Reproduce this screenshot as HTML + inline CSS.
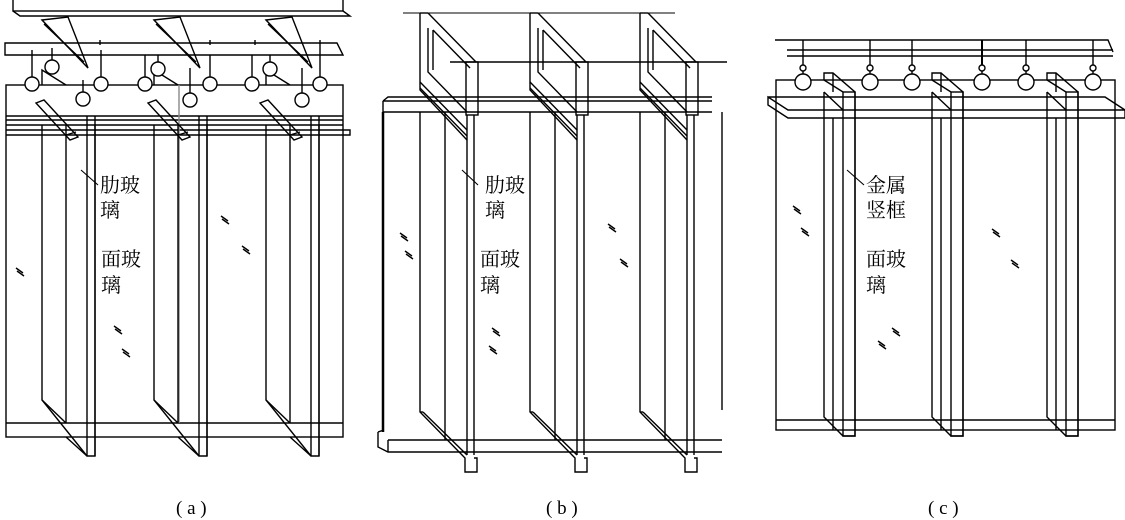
<!DOCTYPE html>
<html><head><meta charset="utf-8"><style>
html,body{margin:0;padding:0;background:#fff;}
svg{display:block;}
text{font-family:"Liberation Serif","Noto Serif CJK SC","Noto Sans CJK SC",serif;fill:#000;}
</style></head><body>
<svg width="1125" height="520" viewBox="0 0 1125 520" xmlns="http://www.w3.org/2000/svg" stroke="#000" stroke-width="1.4" fill="none">
<defs>
<g id="hash"><line x1="-4" y1="-4" x2="3" y2="1"/><line x1="-3" y1="-1" x2="4" y2="4"/></g>
<!-- panel a rib group -->
<g id="ribA">
<path d="M42 125 V400 L87 456 H95 V125"/>
<line x1="66" y1="125" x2="66" y2="423"/>
<line x1="87" y1="116" x2="87" y2="456"/>
<line x1="42" y1="400" x2="66" y2="423"/>
<line x1="66" y1="437" x2="87" y2="456"/>
<line x1="95" y1="116" x2="95" y2="456"/>
<path d="M42 85 V70 L66 85" />
<path d="M36 103 L70 140 L78 137 L44 100 Z"/>
<line x1="66" y1="135" x2="76" y2="132"/>
<path d="M42 20 L68 17 L88 68 Z"/>
<line x1="44" y1="24" x2="84" y2="62"/>
</g>
<g id="ribB">
<path d="M420 13 V90 L467 140"/>
<path d="M428 13 L476 62"/>
<path d="M420 13 L428 13"/>
<path d="M428 28 V72 L467 112"/>
<path d="M433 30 V70"/><path d="M433 30 L470 68"/>
<path d="M420 82 L467 130"/>
<path d="M420 88 L467 136"/>
<rect x="466" y="62" width="12" height="53"/>
<line x1="467" y1="115" x2="467" y2="455"/>
<line x1="474" y1="115" x2="474" y2="455"/>
<line x1="445" y1="112" x2="445" y2="440"/>
<path d="M420 112 V412 L465 458 V472 H477 V458 H474"/>
<line x1="423" y1="412" x2="467" y2="455"/>
<line x1="420" y1="412" x2="423" y2="412"/>
</g>
<g id="ribC">
<path d="M824 80 V73 H833 L855 92 V436 H843 L824 417 V92"/>
<line x1="833" y1="73" x2="833" y2="92"/>
<line x1="833" y1="118" x2="833" y2="430"/>
<rect x="843" y="92" width="12" height="344"/>
<line x1="824" y1="92" x2="843" y2="110"/>
<line x1="824" y1="80" x2="843" y2="92"/>
</g>
</defs>

<!-- ============ (a) ============ -->
<rect x="13" y="-2" width="330" height="13"/>
<path d="M13 11 L20 16 H350 L343 11"/>
<path d="M5 43 H337 L343 55 H5 Z"/>
<rect x="6" y="85" width="337" height="352"/>
<line x1="6" y1="116" x2="343" y2="116"/>
<line x1="6" y1="120" x2="343" y2="120"/>
<line x1="6" y1="125" x2="343" y2="125"/>
<path d="M6 130 H350 V135 H6"/>
<line x1="6" y1="423" x2="343" y2="423"/>
<line x1="179" y1="85" x2="179" y2="423" stroke="#888"/>
<use href="#ribA"/>
<use href="#ribA" transform="translate(112,0)"/>
<use href="#ribA" transform="translate(224,0)"/>
<g fill="#fff">
<line x1="32" y1="50" x2="32" y2="77"/><circle cx="32" cy="84" r="7"/>
<line x1="52" y1="48" x2="52" y2="60"/><circle cx="52" cy="67" r="7"/>
<line x1="83" y1="80" x2="83" y2="92"/><circle cx="83" cy="99" r="7"/>
<line x1="101" y1="50" x2="101" y2="77"/><circle cx="101" cy="84" r="7"/>
<line x1="145" y1="55" x2="145" y2="77"/><circle cx="145" cy="84" r="7"/>
<line x1="158" y1="55" x2="158" y2="62"/><circle cx="158" cy="69" r="7"/>
<line x1="190" y1="68" x2="190" y2="93"/><circle cx="190" cy="100" r="7"/>
<line x1="210" y1="55" x2="210" y2="77"/><circle cx="210" cy="84" r="7"/>
<line x1="252" y1="55" x2="252" y2="77"/><circle cx="252" cy="84" r="7"/>
<line x1="270" y1="55" x2="270" y2="62"/><circle cx="270" cy="69" r="7"/>
<line x1="302" y1="68" x2="302" y2="93"/><circle cx="302" cy="100" r="7"/>
<line x1="320" y1="40" x2="320" y2="77"/><circle cx="320" cy="84" r="7"/>
</g>
<line x1="100" y1="40" x2="100" y2="45"/><line x1="210" y1="40" x2="210" y2="45"/><line x1="255" y1="40" x2="255" y2="45"/>
<line x1="81" y1="170" x2="98" y2="185" stroke-width="1.1"/>
<use href="#hash" x="20" y="272"/><use href="#hash" x="118" y="330"/><use href="#hash" x="126" y="353"/>
<use href="#hash" x="225" y="220"/><use href="#hash" x="246" y="250"/>

<!-- ============ (b) ============ -->
<line x1="403" y1="13" x2="675" y2="13" stroke-width="1"/>
<line x1="450" y1="62" x2="727" y2="62" stroke-width="1.6"/>
<path d="M383 101 L388 97 H712 M383 101 H712 M383 101 V112 H712"/>
<line x1="383" y1="112" x2="383" y2="432" stroke-width="2.5"/>
<line x1="722" y1="112" x2="722" y2="410"/>
<path d="M378 432 V447 L388 452 H722 M388 440 H722 M388 440 V452 M378 432 L384 430"/>
<use href="#ribB"/>
<use href="#ribB" transform="translate(110,0)"/>
<use href="#ribB" transform="translate(220,0)"/>
<line x1="462" y1="170" x2="478" y2="185" stroke-width="1.1"/>
<use href="#hash" x="404" y="237"/><use href="#hash" x="409" y="255"/>
<use href="#hash" x="496" y="332"/><use href="#hash" x="493" y="350"/>
<use href="#hash" x="612" y="228"/><use href="#hash" x="624" y="263"/>

<!-- ============ (c) ============ -->
<path d="M775 40 H1108 L1113 52"/>
<line x1="787" y1="50" x2="1113" y2="50"/>
<line x1="787" y1="56" x2="1113" y2="56"/>
<rect x="776" y="80" width="339" height="350"/>
<line x1="776" y1="420" x2="1115" y2="420"/>
<path d="M768 97 H1105 L1125 110 H788 L768 97 V105 L788 118 H1125 V110"/>
<use href="#ribC"/>
<use href="#ribC" transform="translate(108,0)"/>
<use href="#ribC" transform="translate(223,0)"/>
<g fill="#fff">
<line x1="803" y1="40" x2="803" y2="65"/><circle cx="803" cy="68" r="3"/><line x1="803" y1="71" x2="803" y2="74"/><circle cx="803" cy="82" r="8"/>
<line x1="870" y1="40" x2="870" y2="65"/><circle cx="870" cy="68" r="3"/><line x1="870" y1="71" x2="870" y2="74"/><circle cx="870" cy="82" r="8"/>
<line x1="912" y1="40" x2="912" y2="65"/><circle cx="912" cy="68" r="3"/><line x1="912" y1="71" x2="912" y2="74"/><circle cx="912" cy="82" r="8"/>
<line x1="982" y1="40" x2="982" y2="65" stroke-width="2"/><circle cx="982" cy="68" r="3"/><line x1="982" y1="71" x2="982" y2="74"/><circle cx="982" cy="82" r="8"/>
<line x1="1026" y1="40" x2="1026" y2="65"/><circle cx="1026" cy="68" r="3"/><line x1="1026" y1="71" x2="1026" y2="74"/><circle cx="1026" cy="82" r="8"/>
<line x1="1093" y1="40" x2="1093" y2="65"/><circle cx="1093" cy="68" r="3"/><line x1="1093" y1="71" x2="1093" y2="74"/><circle cx="1093" cy="82" r="8"/>
</g>
<line x1="847" y1="170" x2="864" y2="185" stroke-width="1.1"/>
<use href="#hash" x="797" y="210"/><use href="#hash" x="805" y="232"/>
<use href="#hash" x="996" y="233"/><use href="#hash" x="1015" y="264"/>
<use href="#hash" x="882" y="345"/><use href="#hash" x="896" y="332"/>

<g stroke="none" font-size="20">
<text x="100" y="192">肋玻</text><text x="100" y="217">璃</text>
<text x="101" y="266">面玻</text><text x="101" y="292">璃</text>
<text x="485" y="192">肋玻</text><text x="485" y="217">璃</text>
<text x="480" y="266">面玻</text><text x="480" y="292">璃</text>
<text x="866" y="192">金属</text><text x="866" y="217">竖框</text>
<text x="866" y="266">面玻</text><text x="866" y="292">璃</text>
<text x="176" y="514" font-size="19">( a )</text>
<text x="546" y="514" font-size="19">( b )</text>
<text x="928" y="514" font-size="19">( c )</text>
</g>
</svg>
</body></html>
